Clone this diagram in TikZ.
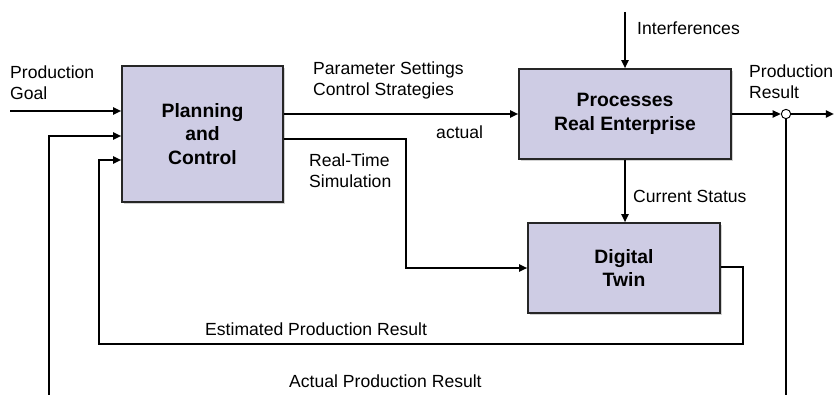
\documentclass[tikz,border=0pt]{standalone}
\usepackage{fontspec}
\setmainfont{Liberation Sans}
\usetikzlibrary{arrows.meta,shadows}

\definecolor{boxfill}{RGB}{206,204,228}

\begin{document}
\begin{tikzpicture}
[x=0.03cm,y=-0.03cm,>={Triangle[length=7pt,width=6pt]},
  flow/.style={line width=2.1pt},
  main node/.style={rectangle,draw=black!85,line width=1.2pt,fill=boxfill,
    drop shadow={shadow xshift=1.5pt,shadow yshift=-1.5pt,opacity=0.35},
    align=center,font=\fontsize{16.5}{20}\selectfont\bfseries},
  label text/.style={align=left,anchor=west,inner sep=0pt,
    font=\fontsize{15}{18}\selectfont}]
  \useasboundingbox (0,0) rectangle (835,395);
  % blocks
  \node[main node,minimum width=4.83cm,minimum height=4.08cm] (plan) at (202.5,134) {Planning\\and\\Control};
  \node[main node,minimum width=6.36cm,minimum height=2.7cm] (proc) at (625,114) {Processes\\Real Enterprise};
  \node[main node,minimum width=5.76cm,minimum height=2.7cm] (twin) at (624,268) {Digital\\Twin};
  \node[circle,draw,fill=white,line width=0.8pt,inner sep=0pt,minimum size=0.28cm] (sum) at (786,114) {};
  % free ends and corners
  \coordinate (goal) at (10,111);
  \coordinate (dist) at (625,12);
  \coordinate (out) at (834,114);
  \coordinate (sim) at (406,139);
  \coordinate (est) at (743,267);
  \coordinate (estl) at (99,344);
  \coordinate (act) at (786,396);
  \coordinate (actl) at (49,396);
  % connectors
  \draw[flow,->] (goal) -- (goal -| plan.west);
  \draw[flow,->] (plan.east |- proc.west) -- (proc.west);
  \draw[flow,->] (plan.east |- sim) -- (sim) -- (sim |- twin.west) -- (twin.west);
  \draw[flow,->] (dist) -- (proc.north);
  \draw[flow,->] (proc.south) -- (proc.south |- twin.north);
  \draw[flow,->] (proc.east) -- (sum);
  \draw[flow,->] (sum) -- (out);
  \draw[flow,->] (twin.east |- est) -- (est) -- (est |- estl) -- (estl)
    -- (estl |- 0,160) -- (plan.west |- 0,160);
  \draw[flow,->] (sum) -- (act) -- (actl) -- (actl |- 0,136) -- (plan.west |- 0,136);
  % labels
  \node[label text] (lgoal) at (10,82.5) {Production\\Goal};
  \node[label text] (lpar) at (313,80.5) {Parameter Settings\\Control Strategies};
  \node[label text] (lact) at (436,132) {actual};
  \node[label text] (lsim) at (309,171) {Real-Time\\Simulation};
  \node[label text] (ldist) at (637,28) {Interferences};
  \node[label text] (lstat) at (633,196) {Current Status};
  \node[label text] (lres) at (749,82) {Production\\Result};
  \node[label text] (lest) at (205,329) {Estimated Production Result};
  \node[label text] (lactr) at (289,381) {Actual Production Result};
\end{tikzpicture}
\end{document}
